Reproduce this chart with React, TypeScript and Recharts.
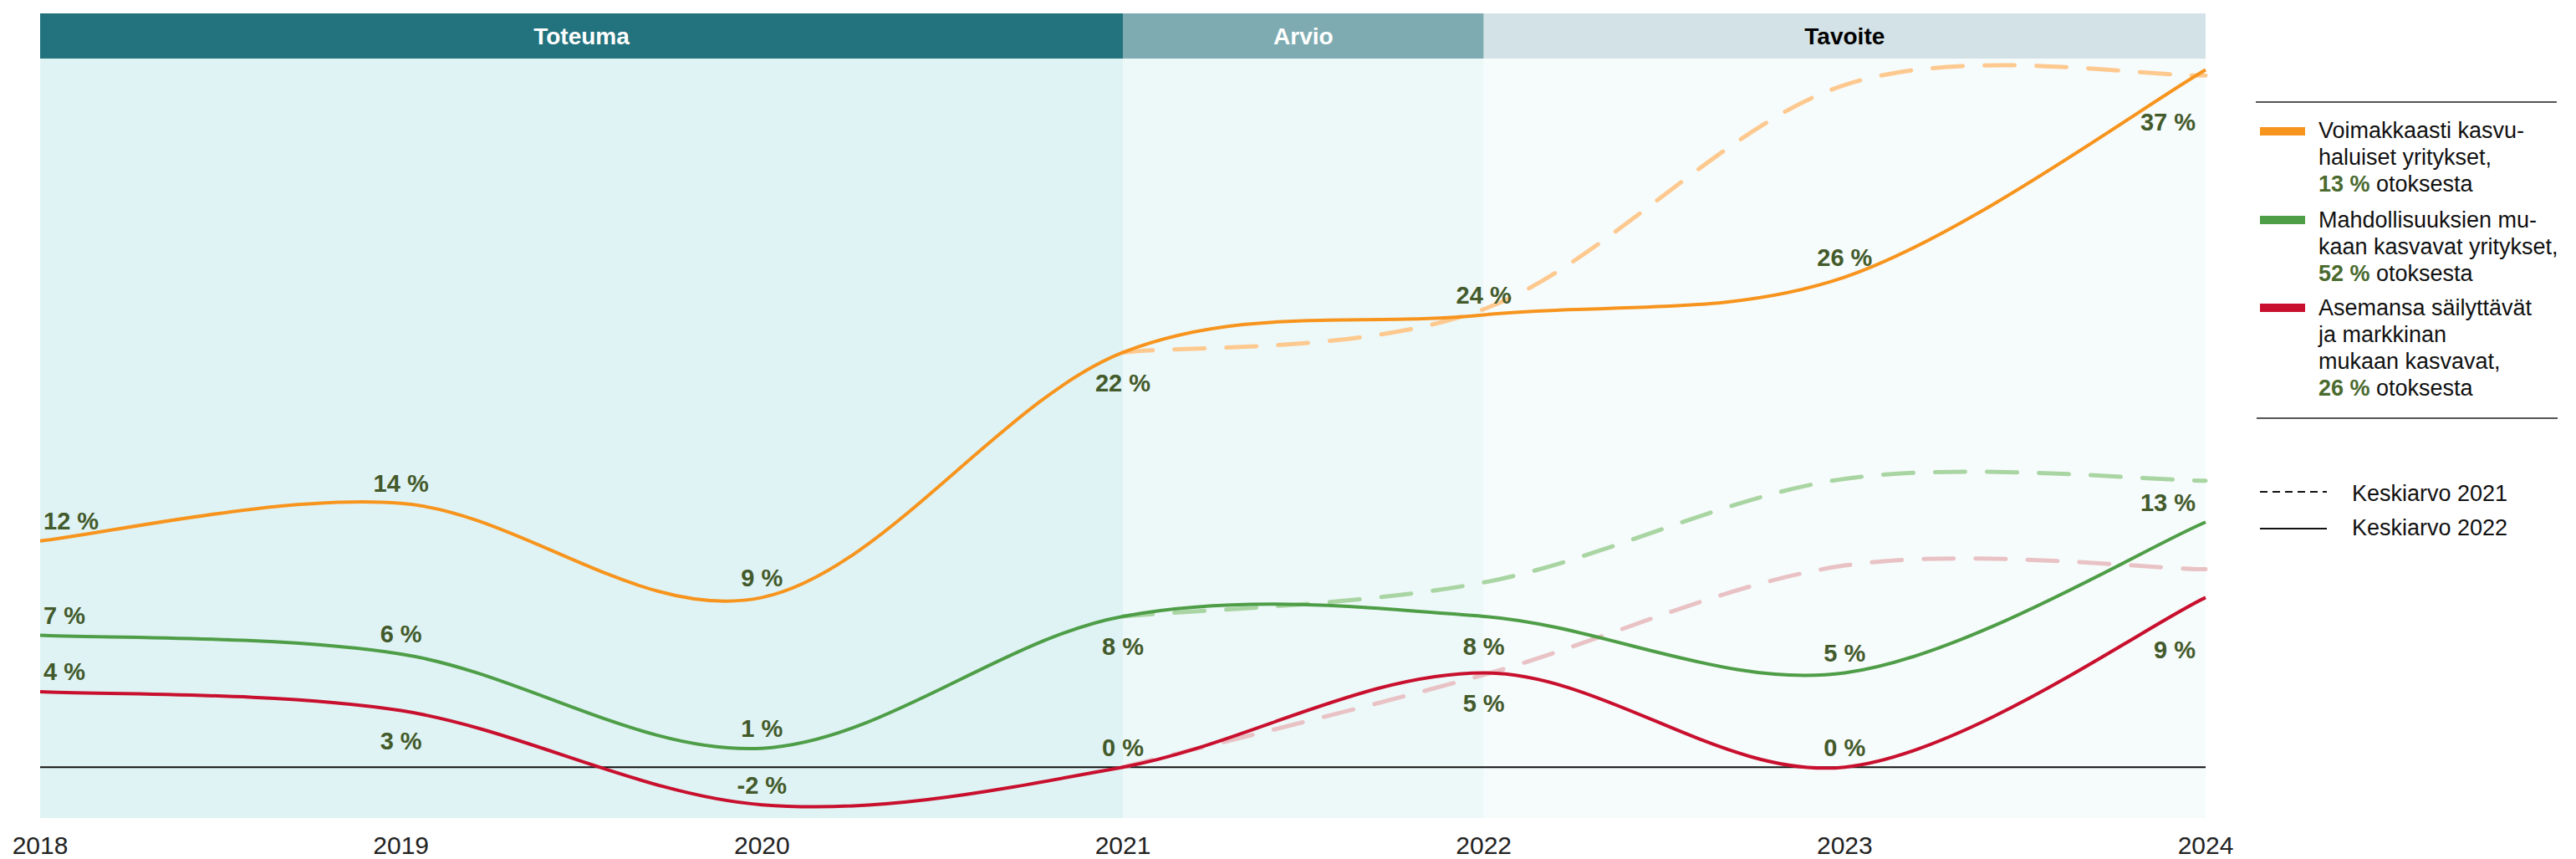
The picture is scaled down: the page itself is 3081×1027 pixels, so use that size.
import React from "react";
import { LineChart, Line, XAxis, YAxis, ReferenceArea, ReferenceLine, LabelList } from "recharts";

const years = ["2018", "2019", "2020", "2021", "2022", "2023", "2024"];

// solid lines = Keskiarvo 2022
const strongGrowth = [12, 14, 9, 22, 24, 26, 37];
const opportunityGrowth = [7, 6, 1, 8, 8, 5, 13];
const marketGrowth = [4, 3, -2, 0, 5, 0, 9];

// dashed lines = Keskiarvo 2021 (only from 2021 on)
const strongGrowthAvg2021 = [null, null, null, 22, 24.3, 36.2, 36.7];
const opportunityGrowthAvg2021 = [null, null, null, 8, 9.8, 15.3, 15.2];
const marketGrowthAvg2021 = [null, null, null, 0, 4.9, 10.7, 10.5];

const periodNames = ["Toteuma", "Arvio", "Tavoite"];
const periodStarts = ["2018", "2021", "2022"];
const periodEnds = ["2021", "2022", "2024"];

const FONT = '"Liberation Sans", Arial, Helvetica, sans-serif';
const LABEL_GREEN = "#435a2b";

const colors = {
  strong: "#f7941d",
  strongLight: "#fdc98f",
  opportunity: "#4e9d47",
  opportunityLight: "#a9d5a3",
  market: "#c8102e",
  marketLight: "#e9c2c5",
};

const periodStyle = [
  { head: "#23737e", body: "#dff3f4", text: "#ffffff" },
  { head: "#7dabb1", body: "#edf8f8", text: "#ffffff" },
  { head: "#d3e2e6", body: "#f6fbfb", text: "#000000" },
];

// which side of the point each value label sits on
const strongSides = ["up", "up", "up", "down", "up", "up", "down"];
const opportunitySides = ["up", "up", "up", "down", "down", "up", "up"];
const marketSides = ["up", "down", "up", "up", "down", "up", "down"];

const data = years.map((year, i) => ({
  year,
  strong: strongGrowth[i],
  opportunity: opportunityGrowth[i],
  market: marketGrowth[i],
  strongAvg: strongGrowthAvg2021[i],
  opportunityAvg: opportunityGrowthAvg2021[i],
  marketAvg: marketGrowthAvg2021[i],
}));

// Excel-style "smoothed line" (Catmull-Rom through the points, as cubic beziers)
function smoothCurve(context: any) {
  let pts: number[][] = [];
  return {
    areaStart() {},
    areaEnd() {},
    lineStart() {
      pts = [];
    },
    point(x: number, y: number) {
      pts.push([+x, +y]);
    },
    lineEnd() {
      const n = pts.length;
      if (!n) return;
      context.moveTo(pts[0][0], pts[0][1]);
      for (let i = 0; i < n - 1; i++) {
        const p0 = pts[Math.max(i - 1, 0)];
        const p1 = pts[i];
        const p2 = pts[i + 1];
        const p3 = pts[Math.min(i + 2, n - 1)];
        context.bezierCurveTo(
          p1[0] + (p2[0] - p0[0]) / 6,
          p1[1] + (p2[1] - p0[1]) / 6,
          p2[0] - (p3[0] - p1[0]) / 6,
          p2[1] - (p3[1] - p1[1]) / 6,
          p2[0],
          p2[1]
        );
      }
    },
  };
}

function makeLabel(sides: string[]) {
  return (props: any) => {
    const { x, y, value, index } = props;
    if (value == null) return null;
    const first = index === 0;
    const last = index === years.length - 1;
    const down = sides[index] === "down";
    const cy = y + (down ? (last ? 62 : 36) : -24);
    const anchor = first ? "start" : last ? "end" : "middle";
    const tx = first ? x + 4 : last ? x - 12 : x;
    return (
      <text
        x={tx}
        y={cy}
        dy="0.36em"
        textAnchor={anchor}
        fontFamily={FONT}
        fontSize={29}
        fontWeight={700}
        fill={LABEL_GREEN}
      >
        {`${value} %`}
      </text>
    );
  };
}

const YearTick = (props: any) => {
  const { x, y, payload } = props;
  return (
    <text x={x} y={y + 35} textAnchor="middle" fontFamily={FONT} fontSize={30} fill="#222">
      {payload.value}
    </text>
  );
};

function PeriodShape(props: any) {
  const { x, y, width, height, idx } = props;
  const st = periodStyle[idx];
  const headH = 54;
  return (
    <g>
      <rect x={x} y={y} width={width} height={height} fill={st.body} />
      <rect x={x} y={y - headH} width={width} height={headH} fill={st.head} />
      <text
        x={x + width / 2}
        y={y - headH / 2}
        dy="0.36em"
        textAnchor="middle"
        fontFamily={FONT}
        fontSize={28}
        fontWeight={700}
        fill={st.text}
      >
        {periodNames[idx]}
      </text>
    </g>
  );
}

const legendText: React.CSSProperties = {
  position: "absolute",
  left: 2773,
  fontSize: 27,
  lineHeight: "32px",
  color: "#111",
  whiteSpace: "nowrap",
};

function Swatch({ top, color }: { top: number; color: string }) {
  return <div style={{ position: "absolute", left: 2703, top, width: 54, height: 10, background: color }} />;
}

const Pct = ({ v }: { v: string }) => <b style={{ color: "#4a6a2e" }}>{v}</b>;

function SideLegend() {
  return (
    <>
      <div style={{ position: "absolute", left: 2698, top: 121, width: 360, height: 2, background: "#555" }} />
      <Swatch top={152} color={colors.strong} />
      <div style={{ ...legendText, top: 140 }}>
        Voimakkaasti kasvu-
        <br />
        haluiset yritykset,
        <br />
        <Pct v="13 %" /> otoksesta
      </div>
      <Swatch top={258} color={colors.opportunity} />
      <div style={{ ...legendText, top: 247 }}>
        Mahdollisuuksien mu-
        <br />
        kaan kasvavat yritykset,
        <br />
        <Pct v="52 %" /> otoksesta
      </div>
      <Swatch top={363} color={colors.market} />
      <div style={{ ...legendText, top: 352 }}>
        Asemansa säilyttävät
        <br />
        ja markkinan
        <br />
        mukaan kasvavat,
        <br />
        <Pct v="26 %" /> otoksesta
      </div>
      <div style={{ position: "absolute", left: 2699, top: 499, width: 360, height: 2, background: "#555" }} />

      <svg style={{ position: "absolute", left: 2700, top: 570 }} width={90} height={80}>
        <line x1={3} x2={83} y1={18} y2={18} stroke="#111" strokeWidth={2} strokeDasharray="9 6" />
        <line x1={3} x2={83} y1={62} y2={62} stroke="#111" strokeWidth={2} />
      </svg>
      <div style={{ ...legendText, left: 2813, top: 574 }}>Keskiarvo 2021</div>
      <div style={{ ...legendText, left: 2813, top: 615 }}>Keskiarvo 2022</div>
    </>
  );
}

export default function App() {
  return (
    <div style={{ position: "relative", width: 3081, height: 1027, background: "#fff", fontFamily: FONT }}>
      <style>{"body{margin:0}"}</style>
      <LineChart
        width={3081}
        height={1027}
        data={data}
        margin={{ top: 70, right: 443, bottom: 9, left: 48 }}
      >
        <XAxis
          dataKey="year"
          axisLine={false}
          tickLine={false}
          interval={0}
          height={40}
          tick={<YearTick />}
        />
        <YAxis hide domain={[-2.7, 37.6]} allowDataOverflow />
        {periodNames.map((name, i) => (
          <ReferenceArea
            key={name}
            x1={periodStarts[i]}
            x2={periodEnds[i]}
            ifOverflow="visible"
            shape={(p: any) => <PeriodShape {...p} idx={i} />}
          />
        ))}
        <ReferenceLine y={0} stroke="#111" strokeWidth={2} />

        <Line dataKey="strongAvg" type={smoothCurve as any} stroke={colors.strongLight} strokeWidth={5} strokeDasharray="36 26" strokeLinecap="round" dot={false} isAnimationActive={false} />
        <Line dataKey="opportunityAvg" type={smoothCurve as any} stroke={colors.opportunityLight} strokeWidth={5} strokeDasharray="36 26" strokeLinecap="round" dot={false} isAnimationActive={false} />
        <Line dataKey="marketAvg" type={smoothCurve as any} stroke={colors.marketLight} strokeWidth={5} strokeDasharray="36 26" strokeLinecap="round" dot={false} isAnimationActive={false} />

        <Line dataKey="strong" type={smoothCurve as any} stroke={colors.strong} strokeWidth={4} dot={false} isAnimationActive={false}>
          <LabelList dataKey="strong" content={makeLabel(strongSides)} />
        </Line>
        <Line dataKey="opportunity" type={smoothCurve as any} stroke={colors.opportunity} strokeWidth={4} dot={false} isAnimationActive={false}>
          <LabelList dataKey="opportunity" content={makeLabel(opportunitySides)} />
        </Line>
        <Line dataKey="market" type={smoothCurve as any} stroke={colors.market} strokeWidth={4} dot={false} isAnimationActive={false}>
          <LabelList dataKey="market" content={makeLabel(marketSides)} />
        </Line>
      </LineChart>
      <SideLegend />
    </div>
  );
}
